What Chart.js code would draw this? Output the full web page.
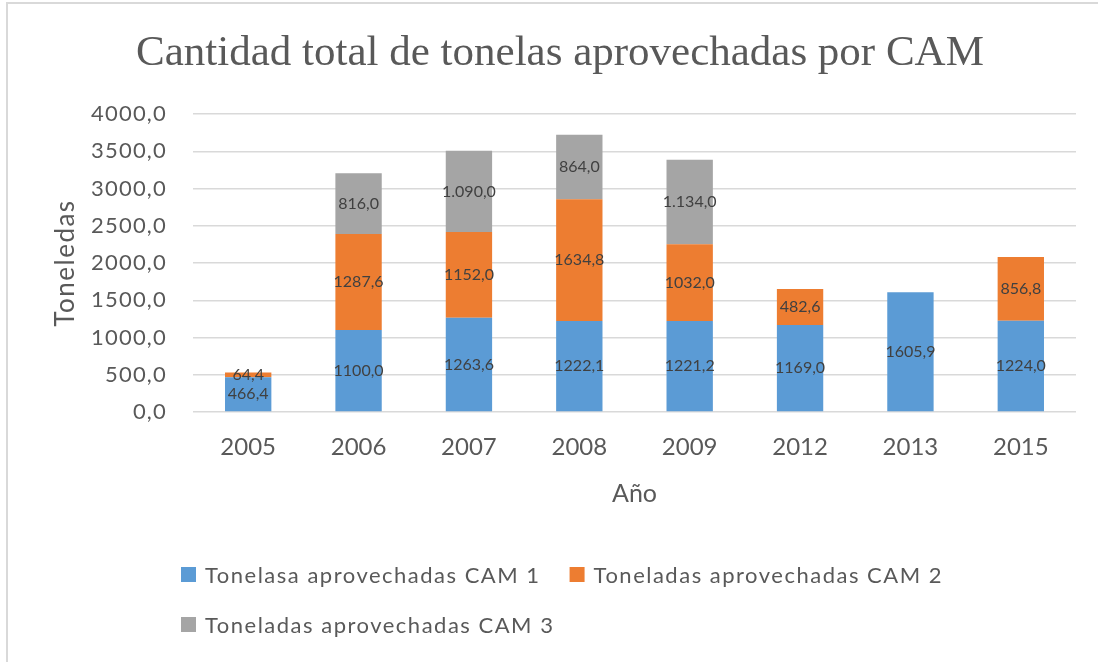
<!DOCTYPE html>
<html><head><meta charset="utf-8">
<script src="https://cdn.jsdelivr.net/npm/chart.js@4/dist/chart.umd.min.js"></script>
<style>
html,body{margin:0;padding:0;background:#fff;}
#wrap{position:relative;width:1098px;height:662px;overflow:hidden;}
#frame{position:absolute;left:6px;top:2px;width:1100px;height:700px;border-left:2px solid #d9d9d9;border-top:2px solid #d9d9d9;pointer-events:none;}
</style></head><body>
<div id="wrap"><canvas id="c" width="1098" height="662"></canvas><div id="frame"></div></div>
<script>
const chartTitle = 'Cantidad total de tonelas aprovechadas por CAM';
const years = ['2005','2006','2007','2008','2009','2012','2013','2015'];
const cam1 = [466.4, 1100.0, 1263.6, 1222.1, 1221.2, 1169.0, 1605.9, 1224.0];
const cam2 = [64.4, 1287.6, 1152.0, 1634.8, 1032.0, 482.6, null, 856.8];
const cam3 = [null, 816.0, 1090.0, 864.0, 1134.0, null, null, null];
const seriesNames = ['Tonelasa aprovechadas CAM 1', 'Toneladas aprovechadas CAM 2', 'Toneladas aprovechadas CAM 3'];
const seriesColors = ['#5B9BD5', '#ED7D31', '#A5A5A5'];
const groupThousands = [false, false, true];
const yAxisTitle = 'Toneledas';
const xAxisTitle = 'Año';
const yMin = 0, yMax = 4000, yStep = 500;

const SANS = 'Lato';
const TXT = '#595959';

function fmt(v, group) {
  const s = v.toFixed(1).split('.');
  let int = s[0];
  if (group) int = int.replace(/\B(?=(\d{3})+(?!\d))/g, '.');
  return int + ',' + s[1];
}

function withSpacing(chart, fn, sp) {
  return function (area) {
    const ctx = chart.ctx;
    ctx.save();
    ctx.letterSpacing = sp;
    fn(area);
    ctx.restore();
  };
}

const overlay = {
  id: 'overlay',
  afterLayout(chart) {
    const ys = chart.scales.y;
    if (ys && !ys._spaced) {
      ys.drawLabels = withSpacing(chart, ys.drawLabels.bind(ys), '1.2px');
      ys.drawTitle = withSpacing(chart, ys.drawTitle.bind(ys), '1.5px');
      ys._spaced = true;
    }
  },
  afterDatasetsDraw(chart) {
    const ctx = chart.ctx;
    ctx.save();
    ctx.font = '16px ' + SANS;
    ctx.fillStyle = '#404040';
    ctx.textAlign = 'center';
    ctx.textBaseline = 'middle';
    chart.data.datasets.forEach((ds, di) => {
      const meta = chart.getDatasetMeta(di);
      meta.data.forEach((el, i) => {
        const v = ds.data[i];
        if (v === null || v === undefined) return;
        const p = el.getProps(['x', 'y', 'base'], true);
        ctx.fillText(fmt(v, ds.groupThousands), p.x, (p.y + p.base) / 2);
      });
    });
    ctx.restore();
  },
  afterDraw(chart) {
    const ctx = chart.ctx;
    ctx.save();
    // title
    ctx.font = '43px "Liberation Serif"';
    ctx.fillStyle = TXT;
    ctx.textAlign = 'center';
    ctx.textBaseline = 'alphabetic';
    ctx.fillText(chartTitle, 560, 65);
    // legend
    ctx.font = '22px ' + SANS;
    ctx.letterSpacing = '1.5px';
    ctx.textAlign = 'left';
    const rows = [[0, 1], [2]];
    const rowBase = [583, 633];
    rows.forEach((row, r) => {
      let x = 181;
      row.forEach(di => {
        const ds = chart.data.datasets[di];
        ctx.fillStyle = ds.backgroundColor;
        ctx.fillRect(x, rowBase[r] - 16, 15, 15);
        ctx.fillStyle = TXT;
        ctx.fillText(ds.label, x + 24, rowBase[r]);
        x += 24 + ctx.measureText(ds.label).width + 29;
      });
    });
    ctx.restore();
  }
};

const datasets = [cam1, cam2, cam3].map((d, i) => ({
  label: seriesNames[i],
  data: d,
  backgroundColor: seriesColors[i],
  borderWidth: 0,
  barPercentage: 0.42,
  categoryPercentage: 1.0,
  groupThousands: groupThousands[i]
}));

new Chart(document.getElementById('c'), {
  type: 'bar',
  data: { labels: years, datasets },
  options: {
    responsive: false,
    animation: false,
    devicePixelRatio: 1,
    layout: { padding: { left: 0, right: 22, top: 114, bottom: 150 } },
    plugins: { legend: { display: false }, title: { display: false }, tooltip: { enabled: false } },
    scales: {
      x: {
        stacked: true,
        grid: { display: false },
        border: { display: false },
        ticks: { color: TXT, font: { family: SANS, size: 24 }, padding: 13 },
        title: { display: true, text: xAxisTitle, color: TXT, font: { family: SANS, size: 25 }, padding: { bottom: 3 } },
        afterFit(s) { s.height = 100; }
      },
      y: {
        stacked: true,
        min: yMin, max: yMax,
        ticks: { stepSize: yStep, color: TXT, font: { family: SANS, size: 22 }, padding: 26,
                 callback: v => fmt(v, false) },
        grid: { color: '#D9D9D9', lineWidth: 1.5, drawTicks: false },
        border: { display: false },
        title: { display: true, text: yAxisTitle, color: TXT, font: { family: SANS, size: 26 }, padding: { top: 50 } },
        afterFit(s) { s.width = 193; }
      }
    }
  },
  plugins: [overlay]
});
</script>
</body></html>
